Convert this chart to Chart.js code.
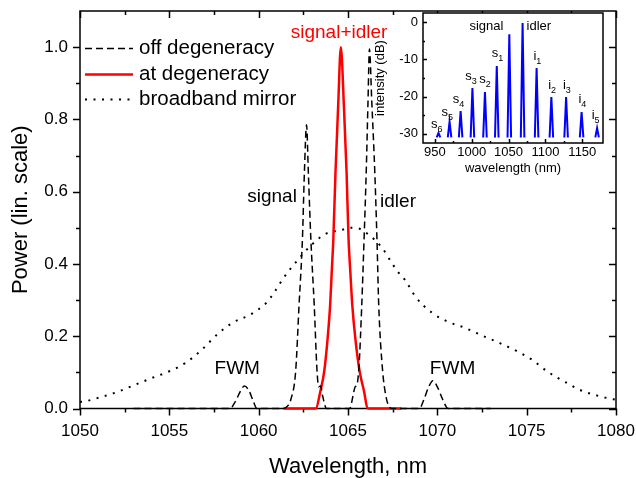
<!DOCTYPE html>
<html>
<head>
<meta charset="utf-8">
<script src="https://cdn.jsdelivr.net/npm/chart.js@4.4.1/dist/chart.umd.min.js"></script>
<style>
  body { margin: 0; background: #fff; }
  #wrap { position: relative; width: 636px; height: 478px; }
  #mainChart { position: absolute; left: 0; top: 0; }
  #insetChart { position: absolute; left: 370px; top: 0; }
</style>
</head>
<body>
<div id="wrap">
  <canvas id="mainChart" width="636" height="478"></canvas>
  <canvas id="insetChart" width="246" height="182"></canvas>
</div>
<script>
// main plot: wavelength (nm) vs normalised power
var offDegWl = [1053, 1058.4, 1058.7, 1059.0, 1059.2, 1059.45, 1059.7, 1059.9, 1061.4, 1061.6, 1061.8,
  1062.07, 1062.26, 1062.45, 1062.56, 1062.68, 1062.78, 1062.92, 1063.11, 1063.26, 1063.36, 1063.47,
  1063.58, 1063.8, 1065.1, 1065.28, 1065.4, 1065.5, 1065.62, 1065.77, 1065.9, 1066.02, 1066.12, 1066.2,
  1066.33, 1066.5, 1066.62, 1066.72, 1066.94, 1067.1, 1067.25, 1067.45, 1069.0, 1069.25, 1069.5,
  1069.75, 1070.0, 1070.3, 1070.6, 1073];
var offDegPow = [0, 0, 0.02, 0.05, 0.062, 0.05, 0.02, 0, 0, 0.006, 0.025,
  0.103, 0.286, 0.47, 0.654, 0.785, 0.654, 0.47, 0.286, 0.11, 0.06, 0.062,
  0.035, 0, 0, 0.035, 0.06, 0.065, 0.12, 0.286, 0.47, 0.654, 0.85, 0.995,
  0.85, 0.654, 0.47, 0.286, 0.103, 0.04, 0.01, 0, 0, 0.025, 0.058,
  0.077, 0.06, 0.025, 0, 0];

var atDegWl = [1061.4, 1063.2, 1063.45, 1063.67, 1063.86, 1064.0, 1064.09, 1064.18, 1064.3, 1064.45, 1064.6,
  1064.77, 1064.92, 1065.03, 1065.13, 1065.24, 1065.41, 1065.65, 1065.9, 1066.1, 1068.0];
var atDegPow = [0, 0, 0.047, 0.103, 0.194, 0.286, 0.378, 0.47, 0.654, 0.838, 1.0,
  0.838, 0.654, 0.47, 0.378, 0.286, 0.194, 0.103, 0.047, 0, 0];

var mirrorWl = [1050, 1050.3, 1051.2, 1052.1, 1053.1, 1054.0, 1055.0, 1055.9, 1056.8, 1057.7, 1058.6, 1059.5,
  1060.4, 1060.8, 1061.4, 1062.1, 1062.9, 1063.7, 1064.7, 1065.1, 1065.6, 1066.0, 1066.9, 1067.5, 1067.8,
  1068.2, 1068.8, 1069.7, 1070.6, 1071.5, 1072.5, 1073.4, 1074.4, 1075.3, 1076.2, 1077.2, 1078.1, 1079.0,
  1079.5, 1080];
var mirrorPow = [0.018, 0.02, 0.032, 0.046, 0.066, 0.084, 0.103, 0.126, 0.162, 0.206, 0.239, 0.259,
  0.291, 0.316, 0.362, 0.406, 0.45, 0.482, 0.495, 0.5, 0.498, 0.487, 0.445, 0.399, 0.378,
  0.355, 0.308, 0.265, 0.24, 0.224, 0.202, 0.183, 0.16, 0.135, 0.101, 0.072, 0.049, 0.035,
  0.029, 0.024];

var seriesNames = ['off degeneracy', 'at degeneracy', 'broadband mirror'];
var xTicks = [1050, 1055, 1060, 1065, 1070, 1075, 1080];
var yTicks = [0, 0.2, 0.4, 0.6, 0.8, 1.0];

// inset: line spectrum, intensity in dB
var insetWl = [955, 970, 985, 1001, 1018, 1034, 1051, 1069, 1088, 1108, 1128, 1149, 1170];
var insetDb = [-29.8, -26.8, -23.9, -17.7, -18.8, -11.8, -3.2, -0.2, -12.3, -20.1, -20.1, -24.2, -28.5];
var insetFloor = -31;
var insetXTicks = [950, 1000, 1050, 1100, 1150];
var insetYTicks = [0, -10, -20, -30];

var FAMILY = "'Liberation Sans', Arial, sans-serif";
Chart.defaults.font.family = FAMILY;
Chart.defaults.color = '#000';

function pairs(xs, ys) {
  return xs.map(function (x, i) { return { x: x, y: ys[i] }; });
}
function midpoints(t) {
  var m = [];
  for (var i = 0; i < t.length - 1; i++) m.push((t[i] + t[i + 1]) / 2);
  return m;
}
// each inset line is drawn as a narrow spike standing on the noise floor
function spikes(xs, ys, half) {
  var out = [];
  xs.forEach(function (x, i) {
    out.push({ x: x - half, y: insetFloor }, { x: x, y: ys[i] }, { x: x + half, y: insetFloor }, { x: x + half + 0.1, y: null });
  });
  return out;
}
// fixed axis boxes, no automatic label overhang padding
function fixBox(w, h) {
  return function (s) {
    if (w !== null) s.width = w;
    if (h !== null) s.height = h;
    s.paddingLeft = 0; s.paddingRight = 0; s.paddingTop = 0; s.paddingBottom = 0;
  };
}

var frameTicks = {
  id: 'frameTicks',
  beforeDraw: function (chart, args, o) {
    var ctx = chart.ctx, a = chart.chartArea;
    ctx.save();
    ctx.fillStyle = '#fff';
    if (o.fillAll) ctx.fillRect(0, 0, chart.width, chart.height);
    else ctx.fillRect(a.left, a.top, a.right - a.left, a.bottom - a.top);
    ctx.restore();
  },
  beforeDatasetsDraw: function (chart, args, o) {
    var ctx = chart.ctx, a = chart.chartArea, sx = chart.scales.x, sy = chart.scales.y;
    ctx.save();
    ctx.strokeStyle = '#000';
    ctx.lineWidth = o.lineWidth;
    ctx.beginPath();
    function vt(vals, len, y, dir) {
      vals.forEach(function (v) {
        var p = Math.round(sx.getPixelForValue(v)) + 0.5;
        ctx.moveTo(p, y); ctx.lineTo(p, y + dir * len);
      });
    }
    function ht(vals, len, x, dir) {
      vals.forEach(function (v) {
        var p = Math.round(sy.getPixelForValue(v)) + 0.5;
        ctx.moveTo(x, p); ctx.lineTo(x + dir * len, p);
      });
    }
    var xMin = midpoints(o.xMajor), yMin = midpoints(o.yMajor).concat(o.yExtra || []);
    var out = o.outward ? 1 : -1;
    vt(o.xMajor, o.major, a.bottom, out); vt(xMin, o.minor, a.bottom, out);
    ht(o.yMajor, o.major, a.left, -out); ht(yMin, o.minor, a.left, -out);
    if (o.mirror) {
      vt(o.xMajor, o.major, a.top, 1); vt(xMin, o.minor, a.top, 1);
      ht(o.yMajor, o.major, a.right, -1); ht(yMin, o.minor, a.right, -1);
    }
    ctx.stroke();
    ctx.strokeRect(a.left, a.top, a.right - a.left, a.bottom - a.top);
    ctx.restore();
  }
};

var annot = {
  id: 'annot',
  afterDraw: function (chart, args, o) {
    var ctx = chart.ctx, sx = chart.scales.x, sy = chart.scales.y;
    ctx.save();
    ctx.textBaseline = 'middle';
    o.items.forEach(function (it) {
      var px = sx.getPixelForValue(it.x), py = sy.getPixelForValue(it.y);
      ctx.fillStyle = it.color || '#000';
      ctx.font = o.size + 'px ' + FAMILY;
      var w = ctx.measureText(it.text).width;
      var ws = 0;
      if (it.sub) {
        ctx.font = o.subSize + 'px ' + FAMILY;
        ws = ctx.measureText(it.sub).width;
      }
      var x0 = px - (w + ws) / 2;
      ctx.textAlign = 'left';
      ctx.font = o.size + 'px ' + FAMILY;
      ctx.fillText(it.text, x0, py);
      if (it.sub) {
        ctx.font = o.subSize + 'px ' + FAMILY;
        ctx.fillText(it.sub, x0 + w, py + o.subShift);
      }
    });
    ctx.restore();
  }
};

var sideLegend = {
  id: 'sideLegend',
  afterDraw: function (chart, args, o) {
    var ctx = chart.ctx, a = chart.chartArea;
    ctx.save();
    ctx.font = o.size + 'px ' + FAMILY;
    ctx.textBaseline = 'middle';
    chart.data.datasets.forEach(function (ds, i) {
      var y = Math.round(a.top + o.top + i * o.rowGap) + 0.5;
      var x = a.left + o.left;
      ctx.strokeStyle = ds.borderColor;
      ctx.lineWidth = ds.borderWidth;
      ctx.setLineDash(ds.borderDash || []);
      ctx.beginPath();
      ctx.moveTo(x, y); ctx.lineTo(x + o.lineLen, y);
      ctx.stroke();
      ctx.setLineDash([]);
      ctx.fillStyle = '#000';
      ctx.fillText(ds.label, x + o.lineLen + o.gap, y);
    });
    ctx.restore();
  }
};

new Chart(document.getElementById('mainChart'), {
  type: 'line',
  data: {
    datasets: [
      { label: seriesNames[0], data: pairs(offDegWl, offDegPow), borderColor: '#000', borderWidth: 1.5,
        borderDash: [7, 4], cubicInterpolationMode: 'monotone', clip: 3 },
      { label: seriesNames[1], data: pairs(atDegWl, atDegPow), borderColor: '#ff0000', borderWidth: 2.5,
        cubicInterpolationMode: 'monotone', clip: 3 },
      { label: seriesNames[2], data: pairs(mirrorWl, mirrorPow), borderColor: '#000', borderWidth: 2,
        borderDash: [2, 6.5], cubicInterpolationMode: 'monotone' }
    ]
  },
  options: {
    responsive: false,
    devicePixelRatio: 1,
    animation: false,
    events: [],
    layout: { padding: { top: 11, right: 20, left: 0, bottom: 0 } },
    elements: { point: { radius: 0 } },
    scales: {
      x: {
        type: 'linear', min: 1050, max: 1080,
        afterBuildTicks: function (s) { s.ticks = xTicks.map(function (v) { return { value: v }; }); },
        afterFit: fixBox(null, 69.5),
        ticks: { font: { size: 17 }, padding: 13, maxRotation: 0, callback: function (v) { return String(v); } },
        grid: { display: false, drawTicks: false },
        border: { display: false },
        title: { display: true, text: 'Wavelength, nm', font: { size: 22 }, padding: { top: 0, bottom: -2 } }
      },
      y: {
        type: 'linear', min: 0, max: 1.1,
        afterBuildTicks: function (s) { s.ticks = yTicks.map(function (v) { return { value: v }; }); },
        afterFit: fixBox(80, null),
        ticks: { font: { size: 17 }, padding: 12, callback: function (v) { return v.toFixed(1); } },
        grid: { display: false, drawTicks: false },
        border: { display: false },
        title: { display: true, text: 'Power (lin. scale)', font: { size: 22 }, padding: { top: 8, bottom: 0 } }
      }
    },
    plugins: {
      legend: { display: false },
      tooltip: { enabled: false },
      frameTicks: { fillAll: true, lineWidth: 1.5, xMajor: xTicks, yMajor: yTicks, yExtra: [1.1 - 0.1 + 0.0], major: 7, minor: 4, outward: true, mirror: true },
      sideLegend: { size: 20.5, top: 37, rowGap: 25.5, left: 5, lineLen: 48, gap: 6 },
      annot: {
        size: 19, subSize: 14, subShift: 5,
        items: [
          { text: 'signal+idler', x: 1064.5, y: 1.039, color: '#ff0000' },
          { text: 'signal', x: 1060.75, y: 0.585 },
          { text: 'idler', x: 1067.8, y: 0.571 },
          { text: 'FWM', x: 1058.8, y: 0.109 },
          { text: 'FWM', x: 1070.85, y: 0.109 }
        ]
      }
    }
  },
  plugins: [frameTicks, sideLegend, annot]
});

new Chart(document.getElementById('insetChart'), {
  type: 'line',
  data: {
    datasets: [
      { label: 'spectrum', data: spikes(insetWl, insetDb, 2.4), borderColor: '#0000ff', borderWidth: 2,
        spanGaps: false, tension: 0 }
    ]
  },
  options: {
    responsive: false,
    devicePixelRatio: 1,
    animation: false,
    events: [],
    layout: { padding: { top: 13, right: 13, left: 0, bottom: 0 } },
    elements: { point: { radius: 0 } },
    scales: {
      x: {
        type: 'linear', min: 934, max: 1178,
        afterBuildTicks: function (s) { s.ticks = insetXTicks.map(function (v) { return { value: v }; }); },
        afterFit: fixBox(null, 39),
        ticks: { font: { size: 13 }, padding: 2, maxRotation: 0, callback: function (v) { return String(v); } },
        grid: { display: false, drawTicks: false },
        border: { display: false },
        title: { display: true, text: 'wavelength (nm)', font: { size: 13 }, padding: { top: 0, bottom: 6 } }
      },
      y: {
        type: 'linear', min: -32.5, max: 2.5,
        afterBuildTicks: function (s) { s.ticks = insetYTicks.map(function (v) { return { value: v }; }); },
        afterFit: fixBox(53, null),
        ticks: { font: { size: 13 }, padding: 5, callback: function (v) { return String(v); } },
        grid: { display: false, drawTicks: false },
        border: { display: false },
        title: { display: true, text: 'intensity (dB)', font: { size: 13 }, padding: { top: 3, bottom: 0 } }
      }
    },
    plugins: {
      legend: { display: false },
      tooltip: { enabled: false },
      frameTicks: { fillAll: false, lineWidth: 1.5, xMajor: insetXTicks, yMajor: insetYTicks, major: 4, minor: 2, outward: false, mirror: false },
      annot: {
        size: 13, subSize: 9, subShift: 5,
        items: [
          { text: 'signal', x: 1020, y: -1.2 },
          { text: 'idler', x: 1091, y: -1.2 },
          { text: 's', sub: '1', x: 1035, y: -8.5 },
          { text: 's', sub: '2', x: 1018, y: -15.5 },
          { text: 's', sub: '3', x: 999, y: -14.6 },
          { text: 's', sub: '4', x: 982, y: -20.9 },
          { text: 's', sub: '5', x: 967, y: -24.3 },
          { text: 's', sub: '6', x: 952.5, y: -27.4 },
          { text: 'i', sub: '1', x: 1089, y: -9.3 },
          { text: 'i', sub: '2', x: 1109, y: -16.9 },
          { text: 'i', sub: '3', x: 1129, y: -16.9 },
          { text: 'i', sub: '4', x: 1150, y: -20.9 },
          { text: 'i', sub: '5', x: 1168, y: -25.2 }
        ]
      }
    }
  },
  plugins: [frameTicks, annot]
});
</script>
</body>
</html>
